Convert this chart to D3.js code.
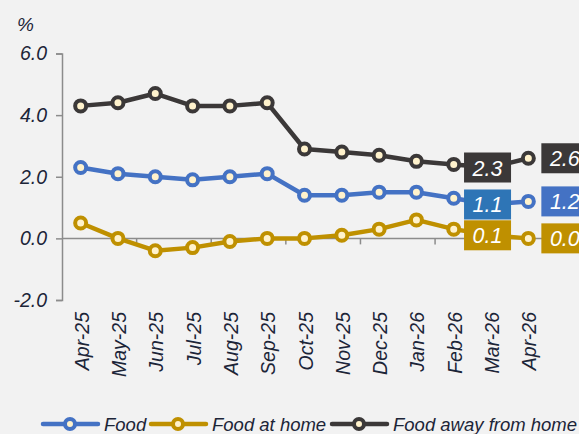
<!DOCTYPE html>
<html>
<head>
<meta charset="utf-8">
<script src="https://cdn.jsdelivr.net/npm/d3@7"></script>
<style>
  body { margin: 0; background: #f2f2f2; }
  svg { display: block; }
  text { font-family: "Liberation Sans", Arial, sans-serif; font-style: italic; }
</style>
</head>
<body>
<svg id="chart" width="579" height="434"></svg>
<script>
const months = ["Apr-25","May-25","Jun-25","Jul-25","Aug-25","Sep-25","Oct-25","Nov-25","Dec-25","Jan-26","Feb-26","Mar-26","Apr-26"]
const food = [2.3, 2.1, 2.0, 1.9, 2.0, 2.1, 1.4, 1.4, 1.5, 1.5, 1.3, 1.1, 1.2]
const foodHome = [0.5, 0.0, -0.4, -0.3, -0.1, 0.0, 0.0, 0.1, 0.3, 0.6, 0.3, 0.1, 0.0]
const foodAway = [4.3, 4.4, 4.7, 4.3, 4.3, 4.4, 2.9, 2.8, 2.7, 2.5, 2.4, 2.3, 2.6]
const yTicks = [-2, 0, 2, 4, 6]

const series = [
  {name: "Food", values: food, color: "#4472c4", boxes: ["#2e75b6", "#4472c4"]},
  {name: "Food at home", values: foodHome, color: "#bf9000", boxes: ["#bf9000", "#bf9000"]},
  {name: "Food away from home", values: foodAway, color: "#3b3838", boxes: ["#3b3838", "#3b3838"]}
]

const fmt = v => d3.format(".1f")(v).replace("\u2212", "-")

const svg = d3.select("#chart")
const x = d3.scaleBand().domain(months).range([62, 547])
const cx = d => x(d) + x.bandwidth() / 2
const y = d3.scaleLinear().domain([-2, 6]).range([300, 53.5])

// y axis
const yAxis = svg.append("g").attr("transform", "translate(62,0)")
  .call(d3.axisLeft(y).tickValues(yTicks).tickFormat(fmt).tickSize(6).tickPadding(9))
yAxis.select(".domain").attr("stroke", "#8c8c8c").attr("stroke-width", 1.5)
yAxis.selectAll(".tick line").attr("stroke", "#8c8c8c").attr("stroke-width", 1.5)
yAxis.selectAll(".tick text").attr("fill", "#1c2538").style("font-size", "19.5px")
  .style("font-family", "Liberation Sans, Arial")

svg.append("text").attr("x", 17).attr("y", 31).attr("fill", "#1c2538")
  .style("font-size", "19px").text("%")

// x axis at zero
svg.append("line").attr("x1", 62).attr("x2", 547).attr("y1", y(0)).attr("y2", y(0))
  .attr("stroke", "#8c8c8c").attr("stroke-width", 1.5)
const tickPos = months.filter((m, i) => i % 2 == 0 && i > 0).map(m => x(m))
svg.selectAll(".xtick").data(tickPos).enter().append("line")
  .attr("x1", d => d).attr("x2", d => d).attr("y1", y(0)).attr("y2", y(0) + 6)
  .attr("stroke", "#8c8c8c").attr("stroke-width", 1.5)

svg.selectAll(".xlab").data(months).enter().append("text")
  .attr("transform", d => `translate(${cx(d) + 8},312) rotate(-90)`)
  .attr("text-anchor", "end").attr("fill", "#1c2538")
  .style("font-size", "19.5px").text(d => d)

const line = d3.line().x((d, i) => cx(months[i])).y(d => y(d))

series.forEach(s => {
  svg.append("path").datum(s.values).attr("d", line)
    .attr("fill", "none").attr("stroke", s.color).attr("stroke-width", 4.5)
    .attr("stroke-linejoin", "round")
  svg.selectAll(null).data(s.values).enter().append("circle")
    .attr("cx", (d, i) => cx(months[i])).attr("cy", d => y(d)).attr("r", 5.5)
    .attr("fill", "#fff2cc").attr("stroke", s.color).attr("stroke-width", 4)
})

// data labels for the last two months
series.forEach(s => {
  const n = s.values.length
  const lab = [
    {v: s.values[n - 2], x: cx(months[n - 2]) - 27, color: s.boxes[0]},
    {v: s.values[n - 1], x: cx(months[n - 1]) + 13, color: s.boxes[1]}
  ]
  lab.forEach(l => {
    const g = svg.append("g")
    g.append("rect").attr("x", l.x).attr("y", y(l.v) - 15).attr("width", 47).attr("height", 30)
      .attr("fill", l.color)
    g.append("text").attr("x", l.x + 23.5).attr("y", y(l.v) + 8).attr("text-anchor", "middle")
      .attr("fill", "#ffffff").style("font-size", "21.5px").text(fmt(l.v))
  })
})

// legend
const legend = [
  {s: series[0], x: 43},
  {s: series[1], x: 151},
  {s: series[2], x: 332}
]
legend.forEach(l => {
  const g = svg.append("g")
  g.append("line").attr("x1", l.x).attr("x2", l.x + 55).attr("y1", 424).attr("y2", 424)
    .attr("stroke", l.s.color).attr("stroke-width", 4.5).attr("stroke-linecap", "round")
  g.append("circle").attr("cx", l.x + 27).attr("cy", 424).attr("r", 5)
    .attr("fill", "#fff2cc").attr("stroke", l.s.color).attr("stroke-width", 4)
  g.append("text").attr("x", l.x + 61).attr("y", 431).attr("fill", "#1c2538")
    .style("font-size", "18.5px").text(l.s.name)
})
</script>
</body>
</html>
